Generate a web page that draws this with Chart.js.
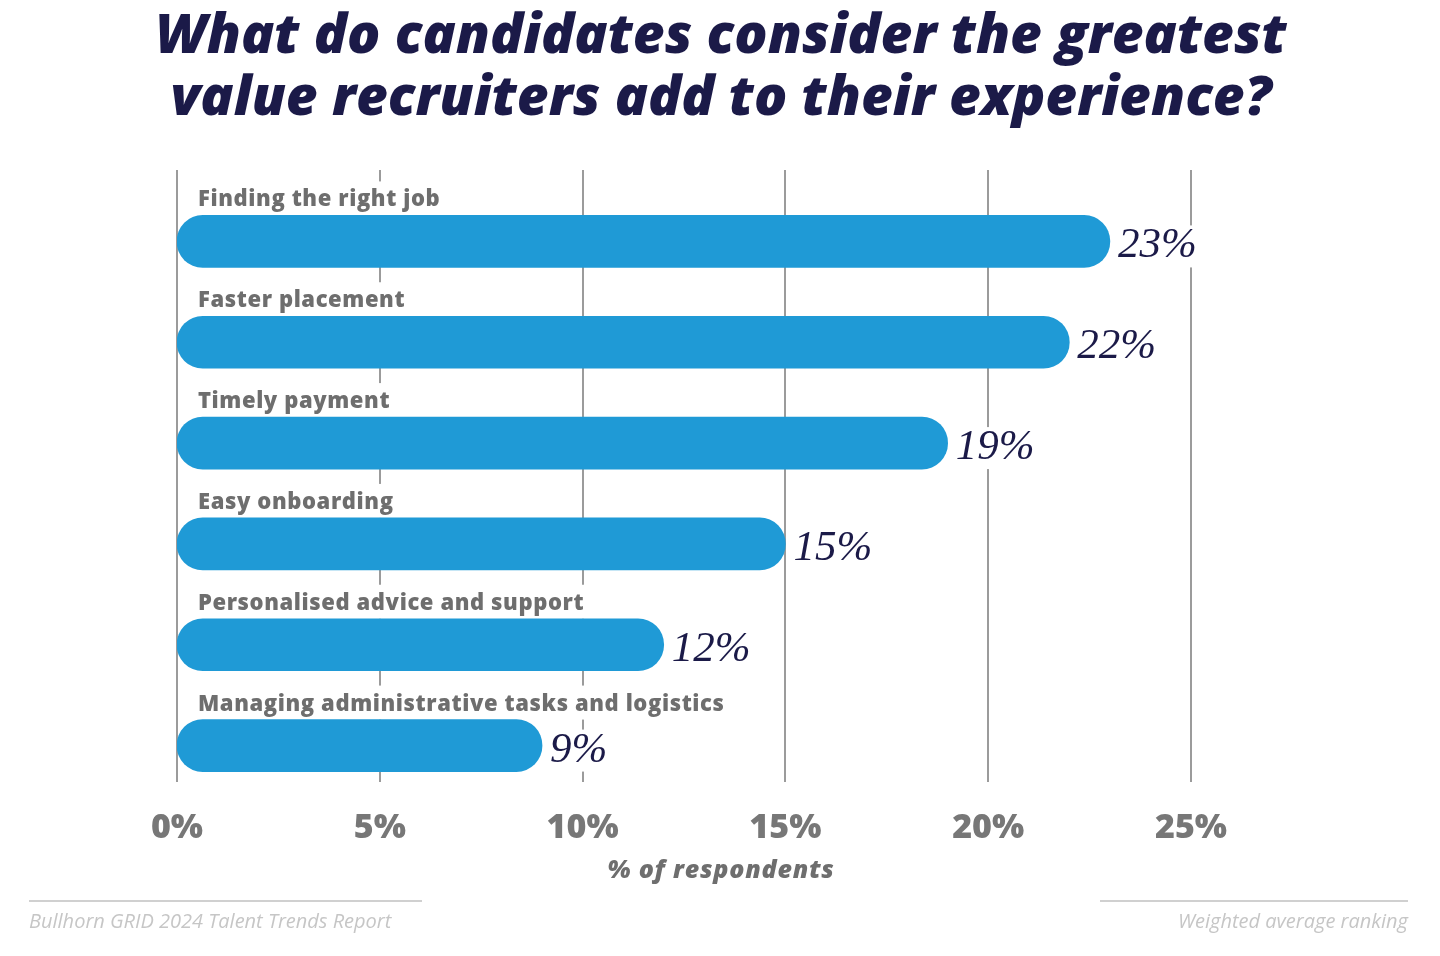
<!DOCTYPE html>
<html><head><meta charset="utf-8">
<script src="https://cdn.jsdelivr.net/npm/chart.js@4.4.1/dist/chart.umd.min.js"></script>
<style>html,body{margin:0;padding:0;background:#fff;}canvas{display:block}</style>
</head><body>
<canvas id="c" width="1440" height="956"></canvas>
<script>
const categories = ['Finding the right job','Faster placement','Timely payment','Easy onboarding','Personalised advice and support','Managing administrative tasks and logistics'];
const values = [23, 22, 19, 15, 12, 9];
const valueLabels = ['23%','22%','19%','15%','12%','9%'];
const tickValues = [0, 5, 10, 15, 20, 25];
const titleLines = ['What do candidates consider the greatest','value recruiters add to their experience?'];
const axisTitle = '% of respondents';
const sourceText = 'Bullhorn GRID 2024 Talent Trends Report';
const noteText = 'Weighted average ranking';

const SANS = '"Open Sans", "DejaVu Sans", sans-serif';
const SERIF = '"Liberation Serif", "DejaVu Serif", serif';
const NAVY = '#1b1a48';
const BLUE = '#1f9ad6';
const CAT_FONT = '800 22px ' + SANS;
const CAT_SPACING = '0.6px';

const decor = {
  id: 'decor',
  beforeDatasetsDraw(chart) {
    const ctx = chart.ctx, xs = chart.scales.x, ca = chart.chartArea;
    const bars = chart.getDatasetMeta(0).data;
    ctx.save();
    ctx.strokeStyle = '#9b9b9b';
    ctx.lineWidth = 2;
    tickValues.forEach(v => {
      const x = Math.round(xs.getPixelForValue(v));
      ctx.beginPath();
      ctx.moveTo(x, ca.top - 21);
      ctx.lineTo(x, ca.bottom - 14);
      ctx.stroke();
    });
    ctx.fillStyle = '#fff';
    bars.forEach((b, i) => {
      ctx.font = CAT_FONT;
      ctx.letterSpacing = CAT_SPACING;
      const w = ctx.measureText(categories[i]).width;
      ctx.fillRect(xs.getPixelForValue(0) + 14, b.y - 26 - 34, w + 14, 34);
      ctx.letterSpacing = '0px';
      ctx.font = 'italic 43px ' + SERIF;
      const vw = ctx.measureText(valueLabels[i]).width;
      ctx.fillRect(b.x + 4, b.y - 16, vw + 8, 42);
    });
    ctx.restore();
  },
  afterDatasetsDraw(chart) {
    const ctx = chart.ctx, xs = chart.scales.x;
    const bars = chart.getDatasetMeta(0).data;
    ctx.save();
    ctx.textBaseline = 'alphabetic';
    bars.forEach((b, i) => {
      ctx.font = CAT_FONT;
      ctx.letterSpacing = CAT_SPACING;
      ctx.fillStyle = '#6e6e6e';
      ctx.textAlign = 'left';
      ctx.fillText(categories[i], xs.getPixelForValue(0) + 21, b.y - 35);
      ctx.letterSpacing = '0px';
      ctx.font = 'italic 43px ' + SERIF;
      ctx.fillStyle = NAVY;
      ctx.fillText(valueLabels[i], b.x + 8, b.y + 16);
    });
    ctx.restore();
  },
  afterDraw(chart) {
    const ctx = chart.ctx;
    ctx.save();
    ctx.fillStyle = NAVY;
    ctx.textAlign = 'center';
    ctx.font = 'italic 800 55px ' + SANS;
    ctx.fillText(titleLines[0], 721, 53);
    ctx.fillText(titleLines[1], 721, 115);
    ctx.fillStyle = '#6e6e6e';
    ctx.font = 'italic 800 25px ' + SANS;
    ctx.letterSpacing = '0.8px';
    ctx.fillText(axisTitle, 721, 878);
    ctx.letterSpacing = '0px';
    ctx.strokeStyle = '#d0d0d0';
    ctx.lineWidth = 2;
    ctx.beginPath(); ctx.moveTo(29, 901); ctx.lineTo(422, 901); ctx.stroke();
    ctx.beginPath(); ctx.moveTo(1100, 901); ctx.lineTo(1408, 901); ctx.stroke();
    ctx.fillStyle = '#c6c6c6';
    ctx.font = 'italic 20px ' + SANS;
    ctx.textAlign = 'left';
    ctx.fillText(sourceText, 29, 928);
    ctx.textAlign = 'right';
    ctx.fillText(noteText, 1408, 928);
    ctx.restore();
  }
};

new Chart(document.getElementById('c'), {
  type: 'bar',
  data: {
    labels: categories,
    datasets: [{
      data: values,
      backgroundColor: BLUE,
      borderRadius: 26,
      borderSkipped: false,
      barThickness: 52
    }]
  },
  options: {
    indexAxis: 'y',
    responsive: false,
    animation: false,
    events: [],
    layout: { padding: { left: 177, right: 249, top: 191, bottom: 0 } },
    plugins: { legend: { display: false }, tooltip: { enabled: false } },
    scales: {
      x: {
        min: 0, max: 25,
        position: 'bottom',
        grid: { display: false, drawTicks: false },
        border: { display: false },
        ticks: {
          stepSize: 5,
          callback: v => v + '%',
          font: { family: SANS, size: 34, weight: 800 },
          color: '#777777',
          padding: 12
        },
        afterFit(s) { s.height = 160; }
      },
      y: { display: false }
    }
  },
  plugins: [decor]
});
</script>
</body></html>
